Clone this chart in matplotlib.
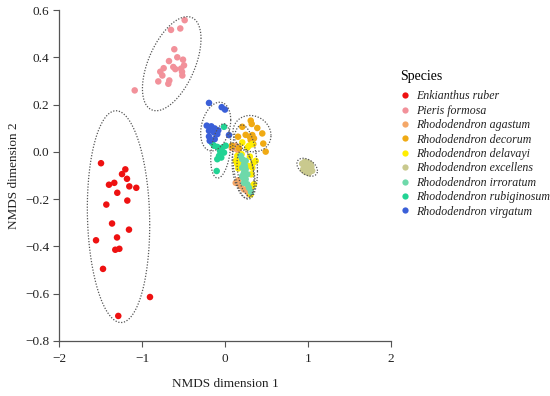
import numpy as np
import matplotlib

matplotlib.use("Agg")
import matplotlib.pyplot as plt
from matplotlib.lines import Line2D

plt.rcParams["font.family"] = ["Liberation Serif", "DejaVu Serif"]

SPECIES = [
    "Enkianthus ruber",
    "Pieris formosa",
    "Rhododendron agastum",
    "Rhododendron decorum",
    "Rhododendron delavayi",
    "Rhododendron excellens",
    "Rhododendron irroratum",
    "Rhododendron rubiginosum",
    "Rhododendron virgatum",
]

ENKIANTHUS_X = [-1.494, -1.201, -1.241, -1.181, -1.398, -1.334, -1.153, -1.069, -1.298, -1.177,
                -1.430, -1.361, -1.157, -1.554, -1.301, -1.322, -1.273, -1.470, -0.904, -1.286]
ENKIANTHUS_Y = [-0.048, -0.074, -0.094, -0.114, -0.139, -0.131, -0.146, -0.152, -0.173, -0.206,
                -0.223, -0.303, -0.329, -0.374, -0.362, -0.414, -0.410, -0.495, -0.614, -0.694]

PIERIS_X = [-0.486, -0.651, -0.539, -0.611, -0.575, -0.506, -0.675, -0.739, -0.623, -0.599,
            -0.494, -0.530, -0.780, -0.518, -0.755, -0.514, -0.671, -0.804, -0.683, -1.088]
PIERIS_Y = [0.557, 0.516, 0.522, 0.434, 0.400, 0.390, 0.384, 0.354, 0.359, 0.350,
            0.366, 0.352, 0.339, 0.339, 0.323, 0.323, 0.302, 0.298, 0.288, 0.260]

AGASTUM_X = [0.129, 0.141, 0.169, 0.129, 0.189, 0.229, 0.269, 0.289, 0.081, 0.160, 0.180]
AGASTUM_Y = [0.026, 0.011, -0.003, -0.131, -0.145, -0.159, -0.166, -0.179, 0.017, -0.120, -0.030]

DECORUM_X = [0.208, 0.310, 0.322, 0.389, 0.449, 0.249, 0.298, 0.329, 0.157, 0.349,
             0.310, 0.461, 0.341, 0.490, 0.169, 0.081]
DECORUM_Y = [0.106, 0.132, 0.118, 0.101, 0.078, 0.072, 0.064, 0.071, 0.064, 0.057,
             0.050, 0.035, 0.033, 0.001, 0.016, 0.026]

DELAVAYI_X = [0.208, 0.289, 0.329, 0.269, 0.148, 0.129, 0.148, 0.169, 0.341, 0.370,
              0.329, 0.317, 0.349, 0.329, 0.310, 0.200, 0.180, 0.300, 0.280, 0.160]
DELAVAYI_Y = [0.040, 0.026, 0.033, 0.018, -0.017, -0.038, -0.052, -0.046, -0.046, -0.038,
              -0.067, -0.095, -0.137, -0.145, -0.180, -0.010, -0.030, -0.020, -0.060, -0.070]

EXCELLENS_X = [0.93, 0.96, 1.00, 1.03, 0.95, 0.99, 1.02, 1.05, 0.97, 1.01, 0.94, 1.04, 0.98, 1.00]
EXCELLENS_Y = [-0.050, -0.042, -0.045, -0.052, -0.070, -0.065, -0.075, -0.080, -0.085, -0.090,
               -0.076, -0.062, -0.058, -0.078]

IRRORATUM_X = [0.189, 0.208, 0.249, 0.229, 0.208, 0.249, 0.229, 0.269, 0.208, 0.249,
               0.229, 0.269, 0.289, 0.313, 0.240, 0.220]
IRRORATUM_Y = [-0.017, -0.031, -0.038, -0.052, -0.067, -0.074, -0.088, -0.095, -0.102, -0.116,
               -0.131, -0.137, -0.152, -0.170, -0.060, -0.110]

RUBIGINOSUM_X = [-0.133, -0.093, -0.033, 0.008, -0.060, -0.012, -0.072, -0.045, -0.093, -0.100,
                 -0.012, -0.157]
RUBIGINOSUM_Y = [0.026, 0.021, 0.018, 0.026, 0.004, -0.003, -0.017, -0.024, -0.031, -0.081,
                 0.106, 0.038]

VIRGATUM_X = [-0.193, -0.040, 0.000, -0.220, -0.165, -0.124, -0.081, -0.193, -0.133, -0.093,
              -0.193, -0.124, -0.184, 0.048]
VIRGATUM_Y = [0.207, 0.189, 0.179, 0.111, 0.108, 0.099, 0.091, 0.089, 0.082, 0.075,
              0.065, 0.054, 0.047, 0.071]

POINTS_X = [ENKIANTHUS_X, PIERIS_X, AGASTUM_X, DECORUM_X, DELAVAYI_X, EXCELLENS_X,
            IRRORATUM_X, RUBIGINOSUM_X, VIRGATUM_X]
POINTS_Y = [ENKIANTHUS_Y, PIERIS_Y, AGASTUM_Y, DECORUM_Y, DELAVAYI_Y, EXCELLENS_Y,
            IRRORATUM_Y, RUBIGINOSUM_Y, VIRGATUM_Y]

# ellipse per species: centre, half extent in x and y, correlation
ELLIPSE_CX = [-1.283, -0.642, 0.217, 0.325, 0.241, 0.990, 0.253, -0.052, -0.112]
ELLIPSE_CY = [-0.274, 0.373, -0.081, 0.077, -0.043, -0.065, -0.089, 0.004, 0.107]
ELLIPSE_HX = [0.376, 0.353, 0.133, 0.229, 0.150, 0.124, 0.108, 0.120, 0.181]
ELLIPSE_HY = [0.448, 0.199, 0.115, 0.077, 0.157, 0.038, 0.098, 0.115, 0.103]
ELLIPSE_R = [-0.08, 0.53, -0.35, -0.10, -0.25, -0.40, -0.40, 0.30, 0.27]

COLORS = ["#EE1111", "#F2919A", "#F4A768", "#F0AA14", "#FFEE00",
          "#C9C98E", "#6ED9AA", "#22D394", "#3A5FD8"]

X_TICKS = [-2, -1, 0, 1, 2]
Y_TICKS = [-0.8, -0.6, -0.4, -0.2, 0.0, 0.2, 0.4, 0.6]


def ellipse_path(cx, cy, hx, hy, r):
    t = np.linspace(0, 2 * np.pi, 200)
    ex = cx + hx * np.cos(t)
    ey = cy + hy * (r * np.cos(t) + np.sqrt(1 - r * r) * np.sin(t))
    return ex, ey


def main() -> None:
    fig = plt.figure(figsize=(5.5, 3.96), dpi=100)
    ax = fig.add_axes([0.1073, 0.1389, 0.6036, 0.8358])

    for xs, ys, color in zip(POINTS_X, POINTS_Y, COLORS):
        ax.scatter(xs, ys, s=22, color=color, edgecolors="none", zorder=3)

    for cx, cy, hx, hy, r in zip(ELLIPSE_CX, ELLIPSE_CY, ELLIPSE_HX, ELLIPSE_HY, ELLIPSE_R):
        ex, ey = ellipse_path(cx, cy, hx, hy, r)
        ax.plot(ex, ey, color="#555555", linewidth=0.9, linestyle=(0, (1, 1.3)), zorder=4)

    ax.set_xlim(-2, 2)
    ax.set_ylim(-0.8, 0.6)
    ax.set_xticks(X_TICKS)
    ax.set_yticks(Y_TICKS)
    ax.set_xticklabels([f"{v:d}".replace("-", "\u2212") for v in X_TICKS])
    ax.set_yticklabels([f"{v:.1f}".replace("-", "\u2212") for v in Y_TICKS])
    for side in ["top", "right"]:
        ax.spines[side].set_visible(False)
    for side in ["left", "bottom"]:
        ax.spines[side].set_color("#555555")
        ax.spines[side].set_linewidth(0.9)
    ax.tick_params(axis="both", colors="#555555", labelcolor="#222222", labelsize=9.5, length=4)
    ax.tick_params(axis="x", pad=5)
    ax.tick_params(axis="y", pad=3)

    ax.set_xlabel("NMDS dimension 1", fontsize=9.5, color="#222222", labelpad=9)
    ax.set_ylabel("NMDS dimension 2", fontsize=9.5, color="#222222", labelpad=4)

    handles = [
        Line2D([], [], marker="o", linestyle="none", markersize=4.5, markerfacecolor=c,
               markeredgecolor="none")
        for c in COLORS
    ]
    leg = fig.legend(
        handles, SPECIES, loc="upper left", bbox_to_anchor=(0.728, 0.823),
        frameon=False, title="Species", prop={"style": "italic", "size": 8.6},
        title_fontsize=10, handlelength=0.8, handletextpad=0.55, labelspacing=0.2,
        borderpad=0, borderaxespad=0, alignment="left",
    )
    # a bit more room between the title and the entries
    leg._legend_box.sep = 5.3
    for text in leg.get_texts():
        text.set_color("#222222")

    fig.savefig("out.png", dpi=100)
    plt.close(fig)


if __name__ == "__main__":
    main()
